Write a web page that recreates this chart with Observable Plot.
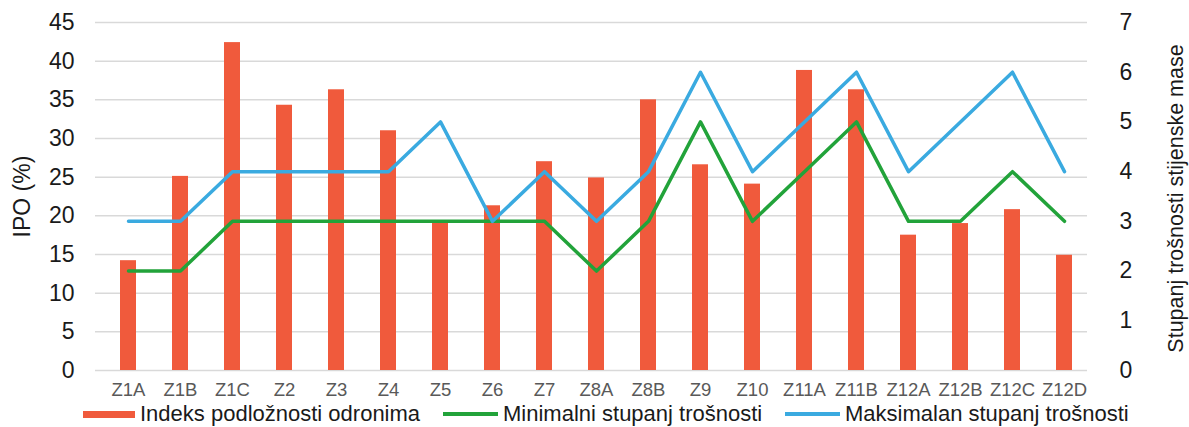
<!DOCTYPE html>
<html>
<head>
<meta charset="utf-8">
<script src="https://cdn.jsdelivr.net/npm/d3@7"></script>
<script src="https://cdn.jsdelivr.net/npm/@observablehq/plot@0.6"></script>
<style>
  html, body { margin: 0; padding: 0; background: #fff; }
  body { width: 1189px; height: 427px; overflow: hidden; font-family: "Liberation Sans", Arial, sans-serif; }
  #legend { position: relative; height: 27px; font-size: 22px; line-height: 22px; color: #1a1a1a; }
  .item { position: absolute; top: 3px; display: flex; align-items: center; height: 22px; white-space: nowrap; }
  .sw { display: inline-block; margin-right: 5px; }
</style>
</head>
<body>
<div id="chart"></div>
<div id="legend"></div>
<script>
const categories = ["Z1A","Z1B","Z1C","Z2","Z3","Z4","Z5","Z6","Z7","Z8A","Z8B","Z9","Z10","Z11A","Z11B","Z12A","Z12B","Z12C","Z12D"];
const ipo = [14.2, 25.1, 42.4, 34.3, 36.3, 31.0, 19.2, 21.3, 27.0, 24.9, 35.0, 26.6, 24.1, 38.8, 36.3, 17.5, 19.0, 20.8, 14.9];
const minStupanj = [2, 2, 3, 3, 3, 3, 3, 3, 3, 2, 3, 5, 3, 4, 5, 3, 3, 4, 3];
const maxStupanj = [3, 3, 4, 4, 4, 4, 5, 3, 4, 3, 4, 6, 4, 5, 6, 4, 5, 6, 4];
const leftTicks = [0, 5, 10, 15, 20, 25, 30, 35, 40, 45];
const rightTicks = [0, 1, 2, 3, 4, 5, 6, 7];
const seriesNames = ["Indeks podložnosti odronima", "Minimalni stupanj trošnosti", "Maksimalan stupanj trošnosti"];
const colors = ["#F05A3C", "#22A33A", "#3AAAE0"];

const k = 45 / 7; // right axis 0..7 mapped onto left 0..45
const bars = categories.map((c, i) => ({cat: c, v: ipo[i]}));
const minData = categories.map((c, i) => ({cat: c, v: minStupanj[i] * k}));
const maxData = categories.map((c, i) => ({cat: c, v: maxStupanj[i] * k}));

const chart = Plot.plot({
  width: 1189,
  height: 400,
  marginLeft: 95,
  marginRight: 93,
  marginTop: 22,
  marginBottom: 30,
  style: {fontFamily: "'Liberation Sans', Arial, sans-serif", background: "#fff"},
  x: {domain: categories, paddingInner: 0.7, paddingOuter: 0.35, label: null},
  y: {domain: [0, 45], label: null},
  marks: [
    Plot.ruleY(leftTicks, {stroke: "#d9d9d9", strokeWidth: 1.5, insetRight: 9}),
    Plot.barY(bars, {x: "cat", y: "v", fill: colors[0]}),
    Plot.line(minData, {x: "cat", y: "v", stroke: colors[1], strokeWidth: 3.5, strokeLinejoin: "round"}),
    Plot.line(maxData, {x: "cat", y: "v", stroke: colors[2], strokeWidth: 3.5, strokeLinejoin: "round"}),
    Plot.axisX({tickSize: 0, tickPadding: 12, fontSize: 18.5, color: "#595959", label: null}),
    Plot.axisY(leftTicks, {anchor: "left", tickSize: 0, tickPadding: 21, fontSize: 23, color: "#1a1a1a", label: null}),
    Plot.axisY(rightTicks.map(t => t * k), {anchor: "right", tickSize: 0, tickPadding: 23, fontSize: 23, color: "#1a1a1a",
      tickFormat: d => String(Math.round(d / k)), textAnchor: "start", label: null}),
    Plot.text(["IPO (%)"], {frameAnchor: "left", textAnchor: "middle", dx: -73, rotate: -90, fontSize: 23, fill: "#1a1a1a"}),
    Plot.text(["Stupanj trošnosti stijenske mase"], {frameAnchor: "right", textAnchor: "middle", dx: 80, dy: 2, rotate: -90, fontSize: 21.5, fill: "#1a1a1a"})
  ]
});
document.getElementById("chart").appendChild(chart);

const legend = document.getElementById("legend");
const items = [
  {x: 83, type: "rect", w: 52},
  {x: 443, type: "line", w: 55},
  {x: 785, type: "line", w: 55}
];
items.forEach((it, i) => {
  const d = document.createElement("div");
  d.className = "item";
  d.style.left = it.x + "px";
  const sw = document.createElement("span");
  sw.className = "sw";
  sw.style.width = it.w + "px";
  sw.style.height = it.type === "rect" ? "7px" : "3.5px";
  sw.style.background = colors[i];
  d.appendChild(sw);
  const t = document.createElement("span");
  t.textContent = seriesNames[i];
  d.appendChild(t);
  legend.appendChild(d);
});
</script>
</body>
</html>
